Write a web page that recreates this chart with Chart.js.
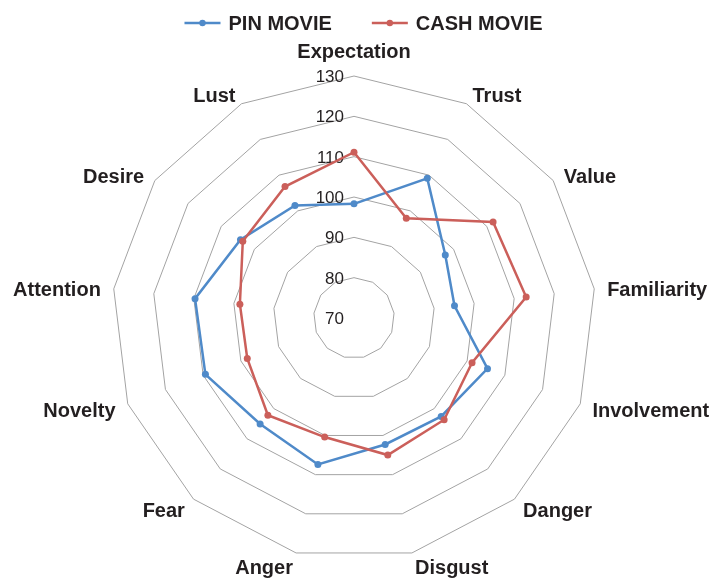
<!DOCTYPE html>
<html>
<head>
<meta charset="utf-8">
<script src="https://cdn.jsdelivr.net/npm/chart.js@4.4.1/dist/chart.umd.min.js"></script>
<style>
  html, body { margin: 0; padding: 0; background: #fff; }
  #wrap { width: 719px; height: 578px; }
</style>
</head>
<body>
<div id="wrap"><canvas id="radar"></canvas></div>
<script>
var categories = ['Expectation', 'Trust', 'Value', 'Familiarity', 'Involvement', 'Danger', 'Disgust',
  'Anger', 'Fear', 'Novelty', 'Attention', 'Desire', 'Lust'];
var pinMovie = [98.3, 109.1, 97.5, 95.1, 105.4, 102.6, 102.3, 107.4, 105.1, 109.4, 109.7, 104.2, 101.5];
var cashMovie = [111.1, 97.9, 111.9, 113, 101.3, 103.7, 105, 100.4, 102.2, 98.3, 98.5, 103.5, 106.8];
var tickValues = [70, 80, 90, 100, 110, 120, 130];

var blue = '#4f8ac9';
var red = '#cb5f5a';
var textColor = '#231f20';
var fontFamily = '"Liberation Sans", Arial, sans-serif';

// tick labels left of the vertical axis, category labels outside the outer ring
var radarText = {
  id: 'radarText',
  beforeDatasetsDraw: function (chart) {
    var r = chart.scales.r;
    var ctx = chart.ctx;
    ctx.save();
    ctx.fillStyle = textColor;
    ctx.font = '17px ' + fontFamily;
    ctx.textAlign = 'right';
    ctx.textBaseline = 'alphabetic';
    tickValues.forEach(function (v) {
      var y = r.yCenter - r.getDistanceFromCenterForValue(v);
      ctx.fillText(String(v), r.xCenter - 10, y + 6);
    });

    ctx.font = 'bold 20px ' + fontFamily;
    categories.forEach(function (label, i) {
      var a = r.getIndexAngle(i);
      var p = r.getPointPosition(i, r.drawingArea);
      var s = Math.sin(a), c = Math.cos(a);
      var x, y;
      if (Math.abs(s) < 0.05) {
        ctx.textAlign = 'center';
        x = p.x;
        y = p.y - 25;
      } else {
        ctx.textAlign = s > 0 ? 'left' : 'right';
        x = p.x + 13 * s;
        y = p.y - 12 * c + 2;
      }
      ctx.fillText(label, x, y + 7);
    });
    ctx.restore();
  }
};

// legend drawn above the plot: line with a dot, then the series name
var lineLegend = {
  id: 'lineLegend',
  afterDraw: function (chart) {
    var ctx = chart.ctx;
    var sets = chart.data.datasets;
    var markLen = 36, gap = 8, itemGap = 40, y = 23;
    ctx.save();
    ctx.font = 'bold 20px ' + fontFamily;
    var total = 0;
    sets.forEach(function (ds, i) {
      total += markLen + gap + ctx.measureText(ds.label).width + (i ? itemGap : 0);
    });
    var x = chart.width / 2 + 4 - total / 2;
    sets.forEach(function (ds) {
      ctx.strokeStyle = ds.borderColor;
      ctx.lineWidth = 2.5;
      ctx.beginPath();
      ctx.moveTo(x, y);
      ctx.lineTo(x + markLen, y);
      ctx.stroke();
      ctx.fillStyle = ds.borderColor;
      ctx.beginPath();
      ctx.arc(x + markLen / 2, y, 3.2, 0, Math.PI * 2);
      ctx.fill();
      x += markLen + gap;
      ctx.fillStyle = textColor;
      ctx.textAlign = 'left';
      ctx.textBaseline = 'alphabetic';
      ctx.fillText(ds.label, x, y + 7);
      x += ctx.measureText(ds.label).width + itemGap;
    });
    ctx.restore();
  }
};

var chart = new Chart(document.getElementById('radar'), {
  type: 'radar',
  data: {
    labels: categories,
    datasets: [{
      label: 'PIN MOVIE',
      data: pinMovie,
      borderColor: blue,
      backgroundColor: blue,
      pointBackgroundColor: blue,
      borderWidth: 2.5,
      pointRadius: 3.5,
      pointBorderWidth: 0,
      fill: false,
      order: 1
    }, {
      label: 'CASH MOVIE',
      data: cashMovie,
      borderColor: red,
      backgroundColor: red,
      pointBackgroundColor: red,
      borderWidth: 2.5,
      pointRadius: 3.5,
      pointBorderWidth: 0,
      fill: false,
      order: 0
    }]
  },
  options: {
    responsive: true,
    maintainAspectRatio: false,
    animation: false,
    events: [],
    layout: {
      padding: { left: 112, right: 123, top: 76, bottom: 18 }
    },
    scales: {
      r: {
        min: 70,
        max: 130,
        ticks: { stepSize: 10, display: false },
        grid: { circular: false, color: '#a3a3a3', lineWidth: 1 },
        angleLines: { display: false },
        pointLabels: { display: false }
      }
    },
    plugins: {
      tooltip: { enabled: false },
      legend: { display: false }
    }
  },
  plugins: [radarText, lineLegend]
});
</script>
</body>
</html>
